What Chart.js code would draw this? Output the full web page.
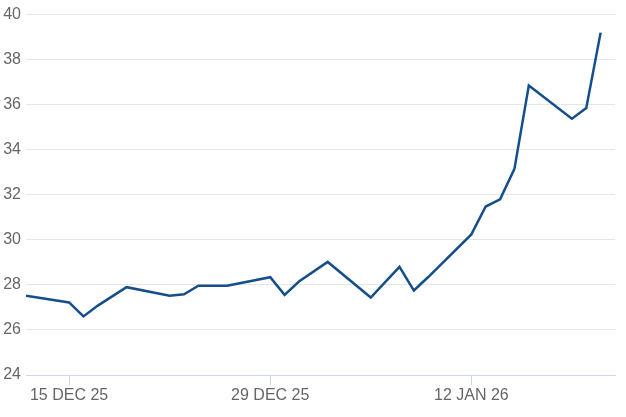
<!DOCTYPE html>
<html>
<head>
<meta charset="utf-8">
<script src="https://cdn.jsdelivr.net/npm/chart.js@4/dist/chart.umd.min.js"></script>
<style>
html,body{margin:0;padding:0;background:#fff;}
#wrap{width:626px;height:417px;}
</style>
</head>
<body>
<div id="wrap"><canvas id="c" width="626" height="417"></canvas></div>
<script>
const dates = ['2025-12-12','2025-12-15','2025-12-16','2025-12-17','2025-12-18','2025-12-19',
  '2025-12-22','2025-12-23','2025-12-24','2025-12-26','2025-12-29','2025-12-30','2025-12-31',
  '2026-01-02','2026-01-05','2026-01-06','2026-01-07','2026-01-08','2026-01-09',
  '2026-01-12','2026-01-13','2026-01-14','2026-01-15','2026-01-16','2026-01-19','2026-01-20','2026-01-21'];
const values = [27.52,27.22,26.6,27.08,27.49,27.9,
  27.52,27.58,27.96,27.96,28.34,27.56,28.15,
  29.02,27.44,28.12,28.8,27.75,28.35,
  30.24,31.48,31.8,33.15,36.85,35.38,35.85,39.2];
const xTickDates = ['2025-12-15','2025-12-29','2026-01-12'];
const xTickLabels = ['15 DEC 25','29 DEC 25','12 JAN 26'];
const xRange = ['2025-12-12','2026-01-22'];
const yTicks = [24,26,28,30,32,34,36,38,40];

const DAY = 86400000;
const base = Date.UTC(2025,11,12);
const toDay = s => { const [y,m,d] = s.split('-').map(Number); return (Date.UTC(y,m-1,d) - base) / DAY; };
const points = dates.map((d,i) => ({x: toDay(d), y: values[i]}));
const tickDays = xTickDates.map(toDay);

const FONT = "'Liberation Sans', Arial, sans-serif";

new Chart(document.getElementById('c'), {
  type: 'line',
  data: { datasets: [{
    data: points,
    borderColor: '#154f8b',
    borderWidth: 2.5,
    pointRadius: 0,
    tension: 0,
    fill: false
  }]},
  options: {
    responsive: false,
    devicePixelRatio: 1,
    animation: false,
    layout: { padding: { top: 12, right: 11, left: 0, bottom: 0 } },
    plugins: { legend: { display: false }, tooltip: { enabled: false } },
    scales: {
      x: {
        type: 'linear',
        min: toDay(xRange[0]),
        max: toDay(xRange[1]),
        afterBuildTicks: s => { s.ticks = tickDays.map(v => ({value: v})); },
        afterFit: s => { s.height = 42; },
        grid: { drawOnChartArea: false, drawTicks: true, tickLength: 10, color: '#ccd6eb', lineWidth: 1 },
        border: { display: true, color: '#ccd6eb', width: 1 },
        ticks: {
          padding: 1,
          maxRotation: 0,
          autoSkip: false,
          color: '#666666',
          font: { family: FONT, size: 16 },
          callback: v => { const i = tickDays.indexOf(v); return i >= 0 ? xTickLabels[i] : ''; }
        }
      },
      y: {
        min: 24, max: 40,
        afterBuildTicks: s => { s.ticks = yTicks.map(v => ({value: v})); },
        afterFit: s => { s.width = 26; },
        grid: { color: '#e6e6e6', drawTicks: false, lineWidth: 1 },
        border: { display: false },
        ticks: {
          padding: 5,
          color: '#666666',
          font: { family: FONT, size: 16 },
          callback: v => String(v)
        }
      }
    }
  }
});
</script>
</body>
</html>
